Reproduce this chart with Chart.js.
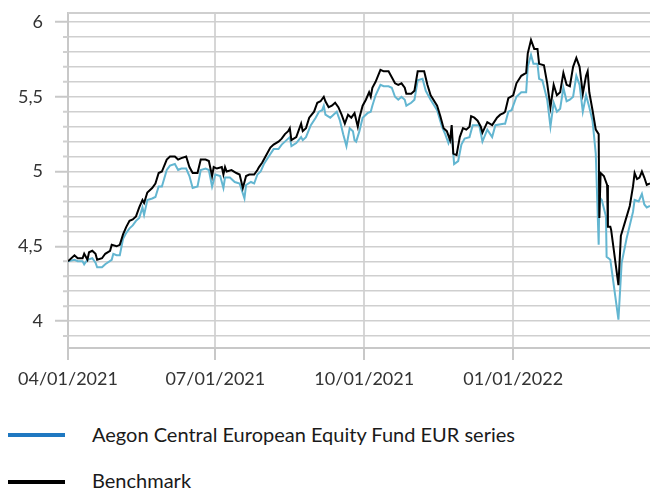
<!DOCTYPE html>
<html>
<head>
<meta charset="utf-8">
<script src="https://cdn.jsdelivr.net/npm/chart.js@4.4.1/dist/chart.umd.min.js"></script>
<style>
  body { margin: 0; background: #fff; font-family: Lato, sans-serif; }
  #wrap { position: relative; width: 650px; height: 489px; }
  .swatch { position: absolute; left: 8px; width: 57px; height: 4px; }
  .label { position: absolute; left: 92px; font-size: 20px; color: #1a1a1a; line-height: 24px; white-space: nowrap; }
</style>
</head>
<body>
<div id="wrap">
  <canvas id="myChart" width="650" height="400"></canvas>
  <div class="swatch" style="top:433px;background:#1f78c1;"></div>
  <div class="label" style="top:422px;">Aegon Central European Equity Fund EUR series</div>
  <div class="swatch" style="top:480px;background:#000;"></div>
  <div class="label" style="top:468px;">Benchmark</div>
</div>
<script>
// x = days since 2021-04-01
const tickDays = [0, 91, 183, 275];
const tickLabels = ['04/01/2021', '07/01/2021', '10/01/2021', '01/01/2022'];

const benchDays = [0,4,6,9,10,12,13,15,17,18,21,23,26,27,30,32,34,36,38,40,42,44,46,47,49,52,54,56,58,61,63,66,68,70,73,75,77,80,82,85,87,89,90,92,95,96,97,98,101,104,106,108,110,112,115,117,118,120,122,125,127,130,132,134,136,137,138,141,144,145,147,149,152,154,156,158,159,161,163,165,167,169,171,173,175,177,179,180,182,184,186,187,188,190,193,195,198,200,202,204,206,208,209,212,214,216,220,222,224,228,230,232,234,236,237,238,240,242,244,246,248,249,251,253,255,256,259,262,265,267,269,270,272,275,277,280,283,284,286,288,290,291,294,296,298,300,302,304,306,308,310,312,314,316,318,320,321,322,324,326,327.8,328.2,329,331,333,333.5,335,335.5,340,341.5,344,347,349,350,351.5,353,354.5,356,357.5,359.5];
const benchValues = [4.40,4.44,4.42,4.42,4.45,4.41,4.46,4.47,4.45,4.41,4.42,4.45,4.47,4.51,4.50,4.51,4.58,4.63,4.67,4.68,4.70,4.76,4.81,4.79,4.86,4.89,4.92,4.99,5.00,5.08,5.10,5.10,5.08,5.09,5.10,5.03,4.99,4.99,5.08,5.08,5.07,4.97,5.03,5.02,5.03,4.98,5.03,5.00,5.01,4.99,4.98,4.89,4.97,4.98,4.98,5.01,5.03,5.06,5.10,5.16,5.18,5.20,5.22,5.25,5.27,5.29,5.21,5.23,5.32,5.27,5.29,5.36,5.40,5.46,5.47,5.50,5.47,5.43,5.44,5.46,5.43,5.38,5.32,5.38,5.36,5.39,5.30,5.36,5.44,5.48,5.53,5.50,5.56,5.60,5.68,5.67,5.67,5.63,5.59,5.58,5.59,5.56,5.52,5.52,5.54,5.67,5.67,5.58,5.51,5.44,5.37,5.29,5.27,5.21,5.31,5.12,5.11,5.23,5.29,5.28,5.30,5.37,5.36,5.34,5.30,5.26,5.33,5.31,5.36,5.38,5.39,5.40,5.49,5.51,5.59,5.64,5.66,5.79,5.88,5.82,5.82,5.72,5.71,5.59,5.43,5.58,5.51,5.53,5.66,5.58,5.57,5.70,5.76,5.70,5.52,5.64,5.67,5.53,5.41,5.28,5.25,4.69,4.99,4.97,4.91,4.63,4.63,4.61,4.24,4.57,4.66,4.77,4.90,4.99,4.95,4.96,5.00,4.96,4.91,4.92];

const fundDays = [0,4,6,9,10,12,15,17,18,21,23,27,28,30,32,34,36,38,40,42,44,46,47,49,52,54,56,58,61,63,66,68,70,73,75,77,80,82,85,87,89,91,94,96,97,100,103,106,109,110,113,115,117,119,121,124,127,130,132,135,137,138,141,144,145,147,150,153,155,157,158,159,162,164,166,168,170,172,174,176,177,178,180,182,185,187,188,190,193,195,198,200,202,204,206,208,209,212,214,216,219,221,224,228,231,233,235,237,238.5,241,243,245,248,250,254,256,259,262,264,269,270,272,274,277,279,280,283,284,286,287.5,290,291,293,296,298,300,302,304,306,308,310,312,314,316,318,320,322,324,326,327.8,328.2,329.7,332.3,332.7,335,338,340,342,345,349,350,352.5,354.5,356,357.5,359.5];
const fundValues = [4.40,4.41,4.40,4.40,4.38,4.41,4.42,4.39,4.36,4.36,4.38,4.41,4.45,4.44,4.44,4.55,4.59,4.62,4.64,4.67,4.69,4.76,4.71,4.81,4.82,4.83,4.90,4.90,5.01,5.04,5.05,5.01,5.02,5.02,4.97,4.89,4.90,5.01,5.02,5.01,4.90,4.98,4.97,4.89,4.96,4.96,4.93,4.92,4.82,4.91,4.93,4.92,4.98,5.00,5.05,5.10,5.15,5.15,5.18,5.21,5.23,5.17,5.19,5.23,5.21,5.23,5.31,5.36,5.40,5.41,5.44,5.38,5.36,5.38,5.40,5.34,5.25,5.17,5.29,5.27,5.21,5.20,5.27,5.36,5.39,5.40,5.44,5.51,5.58,5.57,5.57,5.56,5.50,5.48,5.50,5.48,5.44,5.46,5.48,5.61,5.62,5.54,5.48,5.41,5.30,5.25,5.19,5.26,5.05,5.07,5.18,5.22,5.23,5.31,5.31,5.20,5.28,5.23,5.31,5.32,5.32,5.40,5.41,5.50,5.52,5.53,5.53,5.70,5.78,5.72,5.72,5.62,5.61,5.48,5.30,5.46,5.40,5.42,5.56,5.47,5.48,5.50,5.64,5.58,5.40,5.51,5.43,5.34,5.12,4.51,4.83,4.81,4.70,4.43,4.41,4.17,4.01,4.39,4.55,4.73,4.81,4.80,4.85,4.78,4.76,4.77];

function toPoints(days, vals) {
  return days.map((d, i) => ({ x: d, y: vals[i] }));
}

function isMajor(v) {
  return Math.abs(v * 2 - Math.round(v * 2)) < 1e-6;
}

const gridGrey = '#cfcfcf';
const tickFont = { family: 'Lato', size: 18 };

// top frame line and the short minor tick marks on the value axis
const framePlugin = {
  id: 'frame',
  beforeDatasetsDraw(chart) {
    const c = chart.ctx, a = chart.chartArea, y = chart.scales.y;
    c.save();
    c.strokeStyle = gridGrey;
    c.lineWidth = 2;
    c.beginPath();
    c.moveTo(a.left, a.top);
    c.lineTo(a.right, a.top);
    y.ticks.forEach(t => {
      if (isMajor(t.value)) return;
      const py = y.getPixelForValue(t.value);
      c.moveTo(a.left - 5, py);
      c.lineTo(a.left, py);
    });
    c.stroke();
    c.restore();
  }
};

const ctx = document.getElementById('myChart').getContext('2d');
new Chart(ctx, {
  type: 'line',
  data: {
    datasets: [{
      label: 'Benchmark',
      data: toPoints(benchDays, benchValues),
      borderColor: '#000000',
      borderWidth: 2,
      pointRadius: 0,
      tension: 0,
      order: 0
    }, {
      label: 'Aegon Central European Equity Fund EUR series',
      data: toPoints(fundDays, fundValues),
      borderColor: '#63b6d1',
      borderWidth: 2,
      pointRadius: 0,
      tension: 0,
      order: 1
    }]
  },
  options: {
    responsive: false,
    animation: false,
    devicePixelRatio: 1,
    layout: { padding: { top: 13, right: 0, bottom: 0, left: 0 } },
    plugins: { legend: { display: false }, tooltip: { enabled: false } },
    scales: {
      x: {
        type: 'linear',
        min: 0,
        max: 359.5,
        afterBuildTicks: s => { s.ticks = tickDays.map(v => ({ value: v })); },
        afterFit: s => { s.height = 52; },
        border: { color: '#c8c8c8', width: 2 },
        grid: { color: '#d6d6d6', lineWidth: 2, tickLength: 12, tickColor: '#c8c8c8', tickWidth: 2 },
        ticks: {
          autoSkip: false, maxRotation: 0, padding: 8,
          font: tickFont, color: '#333',
          callback: (v, i) => tickLabels[i]
        }
      },
      y: {
        min: 3.82,
        max: 6.06,
        afterFit: s => { s.width = 68; s.paddingTop = 0; s.paddingBottom = 0; },
        border: { color: '#c8c8c8', width: 2 },
        grid: {
          color: gridGrey, lineWidth: 1.5, tickLength: 13, tickWidth: 2,
          tickColor: c => isMajor(c.tick.value) ? '#c8c8c8' : 'rgba(0,0,0,0)'
        },
        ticks: {
          stepSize: 0.1, includeBounds: false, autoSkip: false, padding: 12,
          font: tickFont, color: '#333',
          callback: v => isMajor(v) ? String(Math.round(v * 10) / 10).replace('.', ',') : ''
        }
      }
    }
  },
  plugins: [framePlugin]
});
</script>
</body>
</html>
